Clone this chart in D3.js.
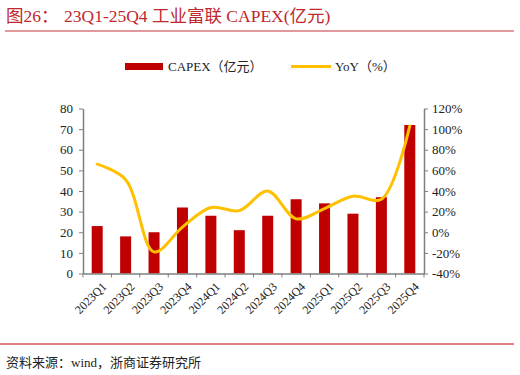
<!DOCTYPE html>
<meta charset="utf-8">
<title>工业富联 CAPEX</title>
<style>
  body { margin: 0; background: #fff; }
  text { font-family: "Liberation Serif", "Noto Sans CJK SC", serif; }
</style>
<body>
<script src="https://d3js.org/d3.v7.min.js"></script>
<script>
    // data
    var quarters = ["2023Q1","2023Q2","2023Q3","2023Q4","2024Q1","2024Q2","2024Q3","2024Q4","2025Q1","2025Q2","2025Q3","2025Q4"];
    var capex = [23, 18, 20, 32, 28, 21, 28, 36, 34, 29, 37, 72];
    var yoy = [66, 51, -19, 5, 24, 21, 40, 13, 23, 35, 32, 103];
    var leftTicks = [0, 10, 20, 30, 40, 50, 60, 70, 80];
    var rightTicks = [-40, -20, 0, 20, 40, 60, 80, 100, 120];

    var width = 520, height = 375;
    var red = "#c00000", gold = "#ffc000", axisGray = "#7f7f7f";

    var svg = d3.select("body").append("svg")
        .attr("width", width)
        .attr("height", height);

    // title
    var title = svg.append("text")
        .attr("y", 22)
        .attr("fill", "#c0282d")
        .style("font-size", "17.5px");
    title.append("tspan").attr("x", 6).text("图26：");
    title.append("tspan").attr("x", 64).text("23Q1-25Q4 工业富联 CAPEX(亿元)");
    svg.append("line")
        .attr("x1", 5).attr("x2", 514).attr("y1", 31).attr("y2", 31)
        .attr("stroke", "#d9777a").attr("stroke-width", 1.5);

    // legend
    var lg = svg.append("g");
    lg.append("rect").attr("x", 125).attr("y", 63).attr("width", 38).attr("height", 7).attr("fill", red);
    lg.append("text").attr("x", 168).attr("y", 71).style("font-size", "13px").attr("fill", "#222").text("CAPEX（亿元）");
    lg.append("line").attr("x1", 291).attr("x2", 331).attr("y1", 66.5).attr("y2", 66.5)
        .attr("stroke", gold).attr("stroke-width", 3);
    lg.append("text").attr("x", 335).attr("y", 71).style("font-size", "13px").attr("fill", "#222").text("YoY（%）");

    var x = d3.scaleBand().domain(quarters).range([83, 424]).paddingInner(0).paddingOuter(0);
    var y = d3.scaleLinear().domain([0, 80]).range([273.5, 108.5]);
    var y2 = d3.scaleLinear().domain([-40, 120]).range([273.5, 108.5]);

    // bars
    svg.append("g").selectAll("rect")
        .data(capex)
        .join("rect")
        .attr("x", (d, i) => x(quarters[i]) + x.bandwidth() / 2 - 5.5)
        .attr("width", 11)
        .attr("y", d => y(d))
        .attr("height", d => y(0) - y(d))
        .attr("fill", red);

    // line
    var line = d3.line()
        .x((d, i) => x(quarters[i]) + x.bandwidth() / 2)
        .y(d => y2(d))
        .curve(d3.curveCatmullRom.alpha(0.5));
    svg.append("path")
        .datum(yoy)
        .attr("d", line)
        .attr("fill", "none")
        .attr("stroke", gold)
        .attr("stroke-width", 3)
        .attr("stroke-linecap", "round");

    // axes
    var gl = svg.append("g").attr("transform", "translate(83,0)")
        .call(d3.axisLeft(y).tickValues(leftTicks).tickSize(4).tickSizeOuter(0).tickPadding(6));
    var gr = svg.append("g").attr("transform", "translate(424,0)")
        .call(d3.axisRight(y2).tickValues(rightTicks).tickFormat(d => d + "%").tickSize(4).tickSizeOuter(0).tickPadding(4));
    var gb = svg.append("g").attr("transform", "translate(0,273.5)")
        .call(d3.axisBottom(x).tickSize(0).tickFormat(""));
    // tick marks at band edges
    gb.selectAll(".edge")
        .data(d3.range(quarters.length + 1))
        .join("line")
        .attr("x1", i => 83 + i * x.step()).attr("x2", i => 83 + i * x.step())
        .attr("y1", 0).attr("y2", 4)
        .attr("stroke", axisGray);
    gb.selectAll(".lbl")
        .data(quarters)
        .join("text")
        .attr("transform", d => "translate(" + (x(d) + x.bandwidth() / 2 + 4) + ",8) rotate(-45)")
        .attr("text-anchor", "end")
        .attr("dy", "0.7em")
        .attr("fill", "#222")
        .style("font-size", "12px")
        .text(d => d);

    [gl, gr, gb].forEach(function(g) {
        g.selectAll(".domain").attr("stroke", axisGray).attr("stroke-width", 1.5);
        g.selectAll(".tick line").attr("stroke", axisGray);
        g.selectAll(".tick text").attr("fill", "#222").style("font-size", "13px")
            .style("font-family", "Liberation Serif");
    });

    // footer
    svg.append("line")
        .attr("x1", 0).attr("x2", 514).attr("y1", 344).attr("y2", 344)
        .attr("stroke", "#c00000").attr("stroke-width", 1);
    svg.append("text")
        .attr("x", 6).attr("y", 367)
        .attr("fill", "#222")
        .style("font-size", "13px")
        .text("资料来源：wind，浙商证券研究所");
</script>
</body>
